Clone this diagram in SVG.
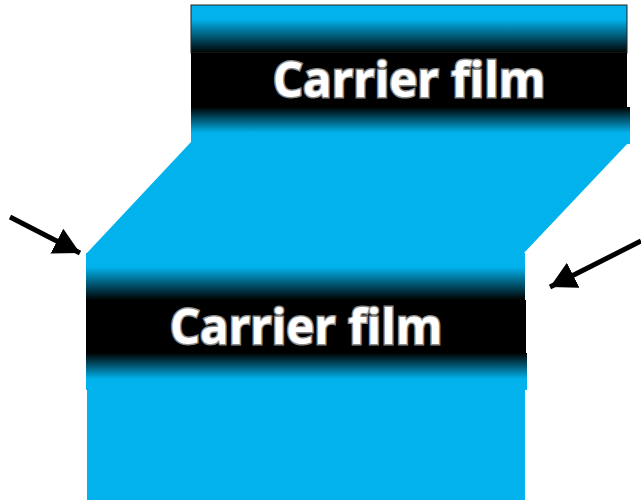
<svg xmlns="http://www.w3.org/2000/svg" width="641" height="502" viewBox="0 0 641 502">
<defs>
<linearGradient id="gDown" x1="0" y1="0" x2="0" y2="1">
<stop offset="0" stop-color="#02B2EC"/>
<stop offset="0.3" stop-color="#02B2EC"/>
<stop offset="1" stop-color="#000"/>
</linearGradient>
<linearGradient id="gUp" x1="0" y1="0" x2="0" y2="1">
<stop offset="0" stop-color="#000"/>
<stop offset="0.7" stop-color="#02B2EC"/>
<stop offset="1" stop-color="#02B2EC"/>
</linearGradient>
<marker id="ah" markerUnits="userSpaceOnUse" markerWidth="28" markerHeight="28" refX="26" refY="14" orient="auto">
<path d="M0,0 L26,14 L0,28 Z" fill="#000"/>
</marker>
</defs>
<style>
.cy{fill:#02B2EC}
.bk{fill:#000}
.lbl{font-family:"Open Sans","Noto Sans",sans-serif;font-weight:bold;font-size:47.5px;fill:#fff;stroke:#8a8a8a;stroke-width:3;paint-order:stroke;text-anchor:middle}
.arr{stroke:#000;stroke-width:5;fill:none}
</style>
<g id="shape-join">
<polygon class="cy" points="191,142 629,142 523,254 86,254"/>
</g>
<g id="film-top">
<rect x="191" y="5" width="436" height="48" fill="url(#gDown)" stroke="#222" stroke-width="1"/>
<rect class="bk" x="191" y="53" width="436" height="54"/>
<rect x="191" y="107" width="439" height="37" fill="url(#gUp)"/>
<text class="lbl" x="409" y="97">Carrier film</text>
</g>
<g id="film-bottom">
<rect x="86" y="253" width="439" height="47" fill="url(#gDown)"/>
<rect class="bk" x="86" y="300" width="440" height="53"/>
<rect x="86" y="353" width="441" height="37" fill="url(#gUp)"/>
<rect class="cy" x="87" y="389" width="438" height="111"/>
<text class="lbl" x="306" y="344">Carrier film</text>
</g>
<g id="connectors">
<line class="arr" x1="10" y1="217" x2="80" y2="253" marker-end="url(#ah)"/>
<line class="arr" x1="641" y1="241" x2="550" y2="287" marker-end="url(#ah)"/>
</g>
</svg>
